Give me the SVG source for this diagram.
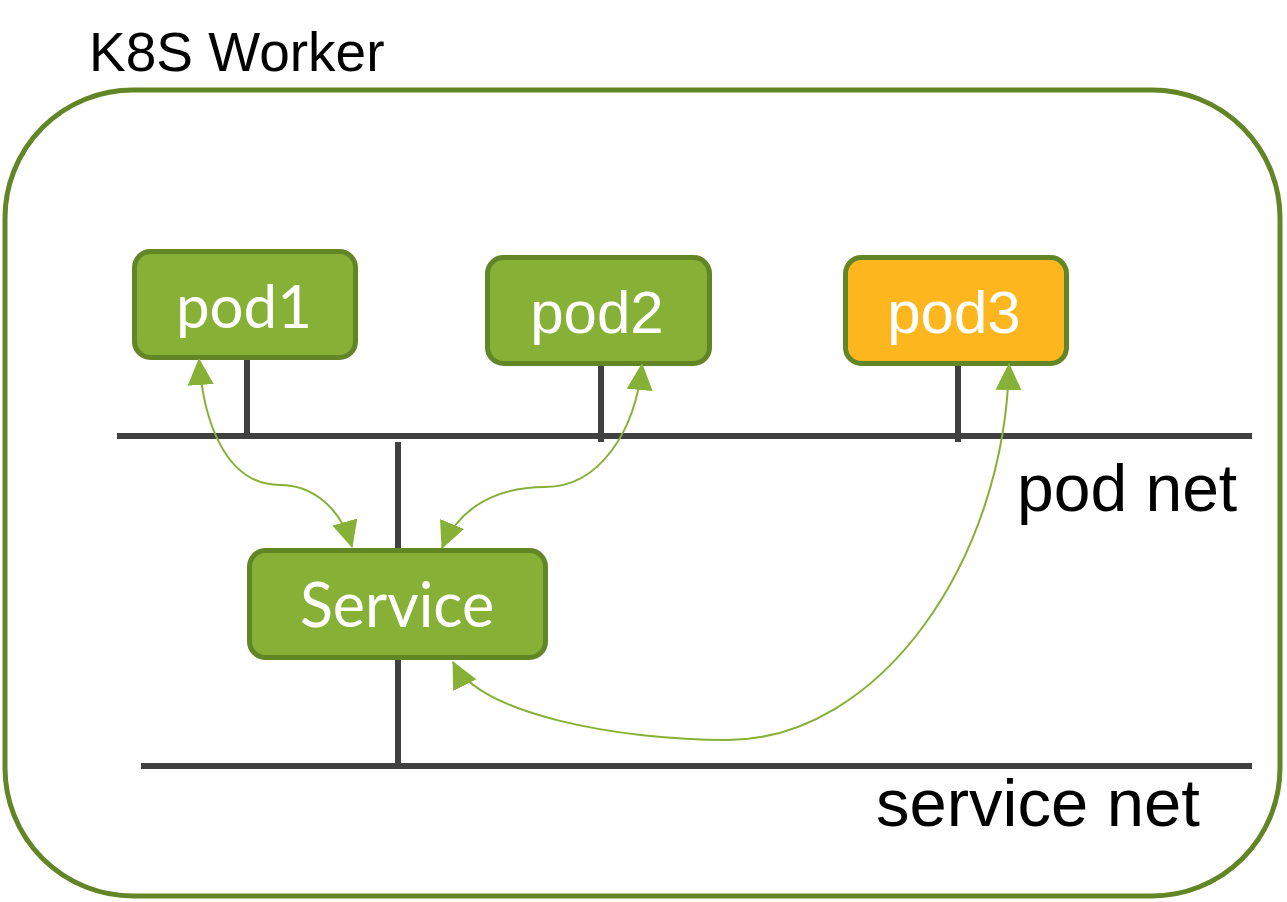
<svg xmlns="http://www.w3.org/2000/svg" width="1287" height="902" viewBox="0 0 1287 902">
  <style>
    .node { fill: #86b036; stroke: #628526; stroke-width: 5; }
    .pod3 { fill: #fdb61e; }
    .net { stroke: #404040; stroke-width: 6; fill: none; }
    .link { stroke: #86b036; stroke-width: 2; fill: none; }
    .lbl { font-family: "Liberation Sans", Arial, sans-serif; fill: #000; }
    .ntxt { fill: #ffffff; text-anchor: middle; }
    .lato { font-family: Lato, "Liberation Sans", sans-serif; }
    .arial { font-family: "Liberation Sans", Arial, sans-serif; }
  </style>
  <defs>
    <marker id="ah" viewBox="0 0 27 26" markerUnits="userSpaceOnUse" markerWidth="27" markerHeight="26" refX="26" refY="13" orient="auto-start-reverse">
      <path d="M0,0 L27,13 L0,26 z" fill="#86b036"/>
    </marker>
  </defs>
  <rect x="0" y="0" width="1287" height="902" fill="#ffffff"/>

  <g id="worker">
    <rect x="5" y="90" width="1275" height="806" rx="128" ry="128" fill="none" stroke="#628526" stroke-width="5"/>
    <text class="lbl" x="89" y="71" font-size="55">K8S Worker</text>
  </g>

  <g id="networks">
    <line class="net" x1="117" y1="436" x2="1252" y2="436"/>
    <line class="net" x1="141" y1="766" x2="1252" y2="766"/>
    <line class="net" x1="247" y1="355" x2="247" y2="436"/>
    <line class="net" x1="601" y1="360" x2="601" y2="442"/>
    <line class="net" x1="958" y1="360" x2="958" y2="442"/>
    <line class="net" x1="398" y1="442" x2="398" y2="550"/>
    <line class="net" x1="398" y1="658" x2="398" y2="766"/>
    <text class="lbl" x="1017" y="511" font-size="66">pod net</text>
    <text class="lbl" x="876" y="826" font-size="67">service net</text>
  </g>

  <g id="pod1">
    <rect class="node" x="134.5" y="251.5" width="221" height="106" rx="16"/>
    <text class="ntxt lato" x="244" y="328" font-size="60">pod1</text>
  </g>
  <g id="pod2">
    <rect class="node" x="487.5" y="257.5" width="222" height="106" rx="16"/>
    <text class="ntxt arial" x="597" y="333" font-size="60">pod2</text>
  </g>
  <g id="pod3">
    <rect class="node pod3" x="845.5" y="257.5" width="221" height="106" rx="16"/>
    <text class="ntxt arial" x="954" y="333" font-size="60">pod3</text>
  </g>
  <g id="service">
    <rect class="node" x="249.5" y="550.5" width="296" height="107" rx="16"/>
    <text class="ntxt lato" x="397" y="627" font-size="61">Service</text>
  </g>

  <g id="connectors">
    <path class="link" d="M 199 359 C 203 420, 225 485, 280 485 C 310 485, 340 505, 352 547" marker-start="url(#ah)" marker-end="url(#ah)"/>
    <path class="link" d="M 642 364 C 636 430, 600 487, 545 487 C 500 487, 460 505, 442 548" marker-start="url(#ah)" marker-end="url(#ah)"/>
    <path class="link" d="M 1009 364 C 1005 560, 880 740, 727 740 C 620 740, 480 715, 453 662" marker-start="url(#ah)" marker-end="url(#ah)"/>
  </g>
</svg>
